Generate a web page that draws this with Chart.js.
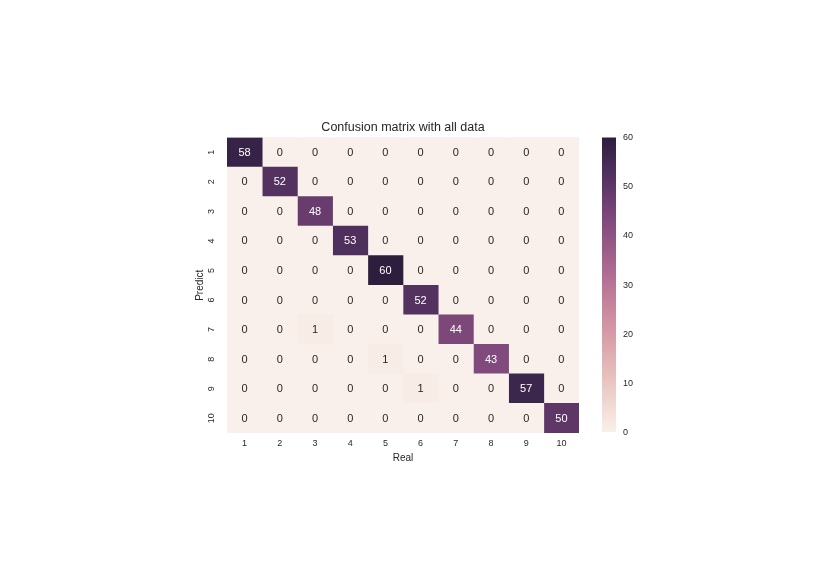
<!DOCTYPE html>
<html>
<head>
<meta charset="utf-8">
<script src="https://cdn.jsdelivr.net/npm/chart.js@4/dist/chart.umd.min.js"></script>
<style>
html, body { margin: 0; padding: 0; background: #fff; }
</style>
</head>
<body>
<canvas id="matrixChart" width="830" height="587"></canvas>
<script>
// labels of the matrix
const real_labels = ['1', '2', '3', '4', '5', '6', '7', '8', '9', '10'];
const predict_labels = ['1', '2', '3', '4', '5', '6', '7', '8', '9', '10'];

// one row per predicted class, one value per real class
const row_1  = [58, 0, 0, 0, 0, 0, 0, 0, 0, 0];
const row_2  = [0, 52, 0, 0, 0, 0, 0, 0, 0, 0];
const row_3  = [0, 0, 48, 0, 0, 0, 0, 0, 0, 0];
const row_4  = [0, 0, 0, 53, 0, 0, 0, 0, 0, 0];
const row_5  = [0, 0, 0, 0, 60, 0, 0, 0, 0, 0];
const row_6  = [0, 0, 0, 0, 0, 52, 0, 0, 0, 0];
const row_7  = [0, 0, 1, 0, 0, 0, 44, 0, 0, 0];
const row_8  = [0, 0, 0, 0, 1, 0, 0, 43, 0, 0];
const row_9  = [0, 0, 0, 0, 0, 1, 0, 0, 57, 0];
const row_10 = [0, 0, 0, 0, 0, 0, 0, 0, 0, 50];
const matrix = [row_1, row_2, row_3, row_4, row_5, row_6, row_7, row_8, row_9, row_10];

const colorbar_ticks = [0, 10, 20, 30, 40, 50, 60];
const vmin = 0;
const vmax = 60;

const FONT = "'Liberation Sans', Arial, sans-serif";
const TEXT = '#262626';

// seaborn cubehelix palette (start 0, rot .4, hue .8, light .95, dark .15)
function cubehelix(v) {
	const f = Math.min(Math.max((v - vmin) / (vmax - vmin), 0), 1);
	const x = 0.95 + (0.15 - 0.95) * f;
	const a = 0.8 * x * (1 - x) / 2;
	const phi = 2 * Math.PI * (0 / 3 + 0.4 * x);
	const c = Math.cos(phi), s = Math.sin(phi);
	const r = x + a * (-0.14861 * c + 1.78277 * s);
	const g = x + a * (-0.29227 * c - 0.90649 * s);
	const b = x + a * (1.97294 * c);
	return [r, g, b].map(k => Math.min(Math.max(k, 0), 1));
}

function cmap(v) {
	const rgb = cubehelix(v).map(k => Math.round(k * 255));
	return 'rgb(' + rgb.join(',') + ')';
}

function textColor(v) {
	const lin = cubehelix(v).map(k => k <= 0.03928 ? k / 12.92 : Math.pow((k + 0.055) / 1.055, 2.4));
	const lum = 0.2126 * lin[0] + 0.7152 * lin[1] + 0.0722 * lin[2];
	return lum > 0.408 ? TEXT : '#ffffff';
}

// one floating bar dataset per real class (column)
const datasets = real_labels.map((col, j) => ({
	label: col,
	data: predict_labels.map(() => [Number(col) - 0.5, Number(col) + 0.5]),
	counts: matrix.map(row => row[j]),
	backgroundColor: matrix.map(row => cmap(row[j])),
	borderWidth: 0,
	barPercentage: 1,
	categoryPercentage: 1,
	grouped: false
}));

const backgroundPlugin = {
	id: 'cellBackground',
	beforeDatasetsDraw(chart) {
		const {ctx, chartArea} = chart;
		ctx.save();
		ctx.fillStyle = cmap(vmin);
		ctx.fillRect(chartArea.left, chartArea.top, chartArea.width, chartArea.height);
		ctx.restore();
	}
};

const annotatePlugin = {
	id: 'annotate',
	afterDatasetsDraw(chart) {
		const ctx = chart.ctx;
		ctx.save();
		ctx.font = '11px ' + FONT;
		ctx.textAlign = 'center';
		ctx.textBaseline = 'middle';
		chart.data.datasets.forEach((ds, i) => {
			chart.getDatasetMeta(i).data.forEach((el, k) => {
				const p = el.getCenterPoint();
				ctx.fillStyle = textColor(ds.counts[k]);
				ctx.fillText(String(ds.counts[k]), p.x, p.y + 0.5);
			});
		});
		ctx.restore();
	}
};

const colorbarPlugin = {
	id: 'colorbar',
	afterDraw(chart) {
		const cb = chart.scales.cb;
		const ctx = chart.ctx;
		const top = cb.getPixelForValue(vmax);
		const bottom = cb.getPixelForValue(vmin) - 1;
		const x = cb.left + 23;
		const grad = ctx.createLinearGradient(0, bottom, 0, top);
		for (let i = 0; i <= 30; i++) {
			grad.addColorStop(i / 30, cmap(vmin + (vmax - vmin) * i / 30));
		}
		ctx.save();
		ctx.fillStyle = grad;
		ctx.fillRect(x, top, 14, bottom - top);
		ctx.restore();
	}
};

const tickFont = { family: FONT, size: 9 };

const config = {
	type: 'bar',
	data: { labels: predict_labels, datasets: datasets },
	plugins: [backgroundPlugin, annotatePlugin, colorbarPlugin],
	options: {
		indexAxis: 'y',
		responsive: false,
		animation: false,
		layout: { padding: { left: 190, right: 190, top: 120, bottom: 119 } },
		plugins: {
			legend: { display: false },
			tooltip: { enabled: false },
			title: {
				display: true,
				text: 'Confusion matrix with all data',
				color: TEXT,
				fullSize: false,
				font: { family: FONT, size: 12.5, weight: 'normal' },
				padding: { top: 0, bottom: 2.5 }
			}
		},
		scales: {
			x: {
				type: 'linear',
				min: 0.5,
				max: 10.5,
				afterBuildTicks: s => { s.ticks = real_labels.map(l => ({ value: Number(l) })); },
				afterFit: s => { s.height = 35; },
				grid: { display: false, drawTicks: false },
				border: { display: false },
				ticks: { color: TEXT, font: tickFont, padding: 5, maxRotation: 0 },
				title: { display: true, text: 'Real', color: TEXT, font: { family: FONT, size: 10 }, padding: { top: 0, bottom: 4 } }
			},
			y: {
				type: 'category',
				afterFit: s => { s.width = 37; },
				grid: { display: false, drawTicks: false },
				border: { display: false },
				ticks: { color: TEXT, font: tickFont, padding: 10, minRotation: 90, maxRotation: 90, crossAlign: 'center' },
				title: { display: true, text: 'Predict', color: TEXT, font: { family: FONT, size: 10 }, padding: { top: 4, bottom: 0 } }
			},
			cb: {
				type: 'linear',
				axis: 'y',
				position: 'right',
				display: true,
				offset: false,
				min: vmin,
				max: vmax,
				afterBuildTicks: s => { s.ticks = colorbar_ticks.map(v => ({ value: v })); },
				afterFit: s => { s.width = 61; },
				grid: { display: false, drawTicks: false, offset: false },
				border: { display: false },
				ticks: { color: TEXT, font: tickFont, padding: 44 }
			}
		}
	}
};

const matrixChart = new Chart(document.getElementById('matrixChart'), config);
</script>
</body>
</html>
